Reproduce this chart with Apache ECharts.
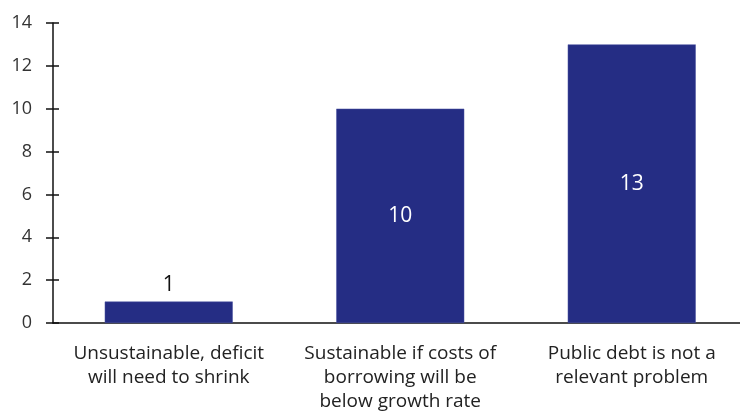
<!DOCTYPE html>
<html><head><meta charset="utf-8">
<script src="https://cdn.jsdelivr.net/npm/echarts@6/dist/echarts.min.js"></script>
<style>html,body{margin:0;padding:0;background:#fff}#c{width:740px;height:415px}</style>
</head><body><div id="c"></div>
<script>
const categories = ["Unsustainable, deficit\nwill need to shrink", "Sustainable if costs of\nborrowing will be\nbelow growth rate", "Public debt is not a\nrelevant problem"];
const values = [1, 10, 13];
const yTicks = [0, 2, 4, 6, 8, 10, 12, 14];

const barColor = '#252d84';
const font = 'Open Sans';
const chart = echarts.init(document.getElementById('c'), null, {renderer: 'canvas'});
chart.setOption({
  animation: false,
  grid: {left: 53, width: 694.5, top: 23, height: 300, containLabel: false, outerBoundsMode: 'none'},
  xAxis: {
    type: 'category', data: categories,
    axisLine: {lineStyle: {color: '#111', width: 1.5}},
    axisTick: {show: false},
    axisLabel: {color: '#222', fontSize: 19, fontFamily: font, lineHeight: 24, margin: 19, interval: 0}
  },
  yAxis: [{
    type: 'value', min: yTicks[0], max: yTicks[yTicks.length - 1], interval: 2,
    axisLine: {show: true, lineStyle: {color: '#111', width: 1.5}},
    axisTick: {show: true, length: 7, lineStyle: {color: '#111', width: 1.5}},
    axisLabel: {color: '#333', fontSize: 18, fontFamily: font, margin: 21},
    splitLine: {show: false}
  }, {
    type: 'value', position: 'left', min: yTicks[0], max: yTicks[yTicks.length - 1], interval: 2,
    axisLine: {show: false},
    axisTick: {show: true, inside: true, length: 6, lineStyle: {color: '#111', width: 1.5}},
    axisLabel: {show: false},
    splitLine: {show: false}
  }],
  series: [{
    type: 'bar', data: values.map((v, i) => ({
      value: v,
      label: i === 0 ? {position: 'top', color: '#111', distance: 6} : {position: 'inside', color: '#fff'}
    })),
    barWidth: '55.3%',
    itemStyle: {color: barColor, borderColor: '#4a52a0', borderWidth: 0.5},
    label: {show: true, fontSize: 21, fontFamily: font}
  }]
});
</script></body></html>
